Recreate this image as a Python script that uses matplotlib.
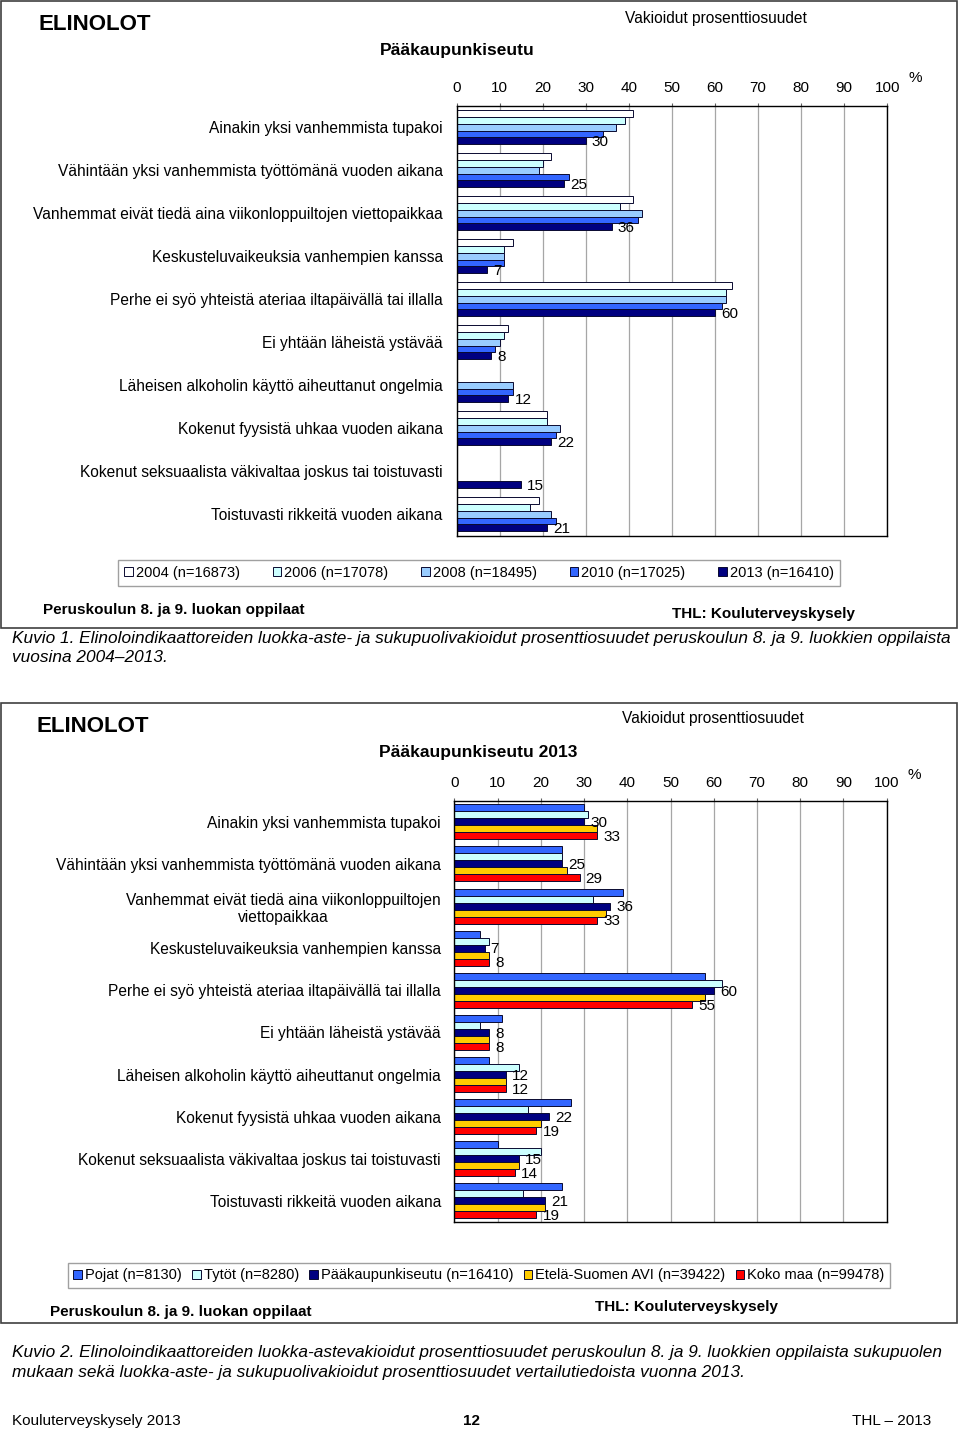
import matplotlib.pyplot as plt
import matplotlib.patches as patches
import numpy as np

plt.rcParams['font.family'] = ['Liberation Sans', 'DejaVu Sans']

W, H = 960, 1433

categories = ['Ainakin yksi vanhemmista tupakoi',
              'Vähintään yksi vanhemmista työttömänä vuoden aikana',
              'Vanhemmat eivät tiedä aina viikonloppuiltojen viettopaikkaa',
              'Keskusteluvaikeuksia vanhempien kanssa',
              'Perhe ei syö yhteistä ateriaa iltapäivällä tai illalla',
              'Ei yhtään läheistä ystävää',
              'Läheisen alkoholin käyttö aiheuttanut ongelmia',
              'Kokenut fyysistä uhkaa vuoden aikana',
              'Kokenut seksuaalista väkivaltaa joskus tai toistuvasti',
              'Toistuvasti rikkeitä vuoden aikana']
categories2 = list(categories)
categories2[2] = 'Vanhemmat eivät tiedä aina viikonloppuiltojen\nviettopaikkaa'

# chart 1: years, Pääkaupunkiseutu
years = ['2004 (n=16873)', '2006 (n=17078)', '2008 (n=18495)', '2010 (n=17025)', '2013 (n=16410)']
v2004 = [41, 22, 41, 13, 64, 12, np.nan, 21, np.nan, 19]
v2006 = [39, 20, 38, 11, 62.5, 11, np.nan, 21, np.nan, 17]
v2008 = [37, 19, 43, 11, 62.5, 10, 13, 24, np.nan, 22]
v2010 = [34, 26, 42, 11, 61.5, 9, 13, 23, np.nan, 23]
v2013 = [30, 25, 36, 7, 60, 8, 12, 22, 15, 21]
year_colors = ['white', '#CCFFFF', '#99CCFF', '#3366FF', '#000080']

# chart 2: groups in 2013
groups = ['Pojat (n=8130)', 'Tytöt (n=8280)', 'Pääkaupunkiseutu (n=16410)',
          'Etelä-Suomen AVI (n=39422)', 'Koko maa (n=99478)']
pojat = [30, 25, 39, 6, 58, 11, 8, 27, 10, 25]
tytot = [31, 25, 32, 8, 62, 6, 15, 17, 20, 16]
pks = [30, 25, 36, 7, 60, 8, 12, 22, 15, 21]
avi = [33, 26, 35, 8, 58, 8, 12, 20, 15, 21]
koko = [33, 29, 33, 8, 55, 8, 12, 19, 14, 19]
group_colors = ['#3366FF', '#CCFFFF', '#000080', '#FFCC00', '#FF0000']

ticks = np.arange(0, 101, 10)


def fx(x):
    return x / W


def fy(y):
    return 1 - y / H


fig = plt.figure(figsize=(W / 100, H / 100), dpi=100)


def make_axes(left, right, top, bottom):
    ax = fig.add_axes([fx(left), fy(bottom), fx(right) - fx(left), fy(top) - fy(bottom)])
    ax.set_xlim(0, 100)
    ax.set_ylim(len(categories) - 0.5, -0.5)
    ax.xaxis.tick_top()
    ax.set_xticks(ticks)
    ax.set_xticklabels([str(t) for t in ticks], fontsize=11)
    ax.tick_params(axis='x', direction='out', length=2.5, pad=5, color='#606060')
    ax.tick_params(axis='y', length=0)
    ax.grid(axis='x', color='#A6A6A6', linewidth=0.9)
    ax.set_axisbelow(True)
    for s in ax.spines.values():
        s.set_color('black')
        s.set_linewidth(1)
    return ax


def draw_bars(ax, series, colors, width, labelled):
    pos = np.arange(len(categories))
    h = width / len(series)
    handles = []
    for j, vals in enumerate(series):
        vals = np.array(vals, dtype=float)
        y = pos + (j - (len(series) - 1) / 2) * h
        ok = ~np.isnan(vals)
        b = ax.barh(y[ok], vals[ok], height=h, color=colors[j], edgecolor='#0A0A30', linewidth=0.7)
        handles.append(b)
        if j in labelled:
            for yy, vv in zip(y[ok], vals[ok]):
                ax.text(vv + 1.4, yy + 0.03, '%.0f' % vv, va='center', ha='left', fontsize=11)
    return handles


# frames round the two charts
fig.patches.append(patches.Rectangle((fx(1), fy(628)), fx(957) - fx(1), fy(1) - fy(628),
                                     transform=fig.transFigure, fill=False, edgecolor='#404040', linewidth=1.2))
fig.patches.append(patches.Rectangle((fx(1), fy(1323)), fx(957) - fx(1), fy(703) - fy(1323),
                                     transform=fig.transFigure, fill=False, edgecolor='#404040', linewidth=1.2))

# chart 1
ax1 = make_axes(456.7, 887.3, 105.7, 535.7)
ax1.set_yticks(np.arange(len(categories)))
ax1.set_yticklabels(categories, fontsize=11.2)
ax1.tick_params(axis='y', pad=10)
h1 = draw_bars(ax1, [v2004, v2006, v2008, v2010, v2013], year_colors, 0.79, [4])

fig.text(fx(38), fy(25), 'ELINOLOT', fontsize=16, fontweight='bold', va='center')
fig.text(fx(457), fy(51), 'Pääkaupunkiseutu', fontsize=12.5, fontweight='bold', va='center', ha='center')
fig.text(fx(716), fy(18), 'Vakioidut prosenttiosuudet', fontsize=11.2, va='center', ha='center')
fig.text(fx(915), fy(78), '%', fontsize=11, va='center', ha='center')
fig.legend(h1, years, loc='center', bbox_to_anchor=(fx(479), fy(573)), ncol=5, fontsize=10.5,
           fancybox=False, edgecolor='#A0A0A0', framealpha=1, handlelength=0.6, handleheight=0.6,
           handletextpad=0.2, columnspacing=2.25, borderpad=0.4)
fig.text(fx(43), fy(610), 'Peruskoulun 8. ja 9. luokan oppilaat', fontsize=11, fontweight='bold', va='center')
fig.text(fx(855), fy(614), 'THL: Kouluterveyskysely', fontsize=11, fontweight='bold', va='center', ha='right')
fig.text(fx(12), fy(638), 'Kuvio 1. Elinoloindikaattoreiden luokka-aste- ja sukupuolivakioidut prosenttiosuudet '
         'peruskoulun 8. ja 9. luokkien oppilaista', fontsize=12.4, style='italic', va='center')
fig.text(fx(12), fy(657), 'vuosina 2004–2013.', fontsize=12.4, style='italic', va='center')

# chart 2
ax2 = make_axes(454.3, 886.7, 800.7, 1222)
ax2.set_yticks(np.arange(len(categories2)))
ax2.set_yticklabels(categories2, fontsize=11.2, multialignment='center')
ax2.tick_params(axis='y', pad=9.5)
h2 = draw_bars(ax2, [pojat, tytot, pks, avi, koko], group_colors, 0.83, [2, 4])

fig.text(fx(37), fy(726), 'ELINOLOT', fontsize=16, fontweight='bold', va='center')
fig.text(fx(478), fy(752), 'Pääkaupunkiseutu 2013', fontsize=12.5, fontweight='bold', va='center', ha='center')
fig.text(fx(713), fy(718), 'Vakioidut prosenttiosuudet', fontsize=11.2, va='center', ha='center')
fig.text(fx(914), fy(775), '%', fontsize=11, va='center', ha='center')
fig.legend(h2, groups, loc='center', bbox_to_anchor=(fx(479), fy(1275.5)), ncol=5, fontsize=10.5,
           fancybox=False, edgecolor='#A0A0A0', framealpha=1, handlelength=0.6, handleheight=0.6,
           handletextpad=0.2, columnspacing=0.7, borderpad=0.4)
fig.text(fx(50), fy(1312), 'Peruskoulun 8. ja 9. luokan oppilaat', fontsize=11, fontweight='bold', va='center')
fig.text(fx(778), fy(1307), 'THL: Kouluterveyskysely', fontsize=11, fontweight='bold', va='center', ha='right')
fig.text(fx(12), fy(1352), 'Kuvio 2. Elinoloindikaattoreiden luokka-astevakioidut prosenttiosuudet peruskoulun 8. '
         'ja 9. luokkien oppilaista sukupuolen', fontsize=12.4, style='italic', va='center')
fig.text(fx(12), fy(1372), 'mukaan sekä luokka-aste- ja sukupuolivakioidut prosenttiosuudet vertailutiedoista '
         'vuonna 2013.', fontsize=12.4, style='italic', va='center')

# page footer
fig.text(fx(12), fy(1421), 'Kouluterveyskysely 2013', fontsize=11, va='center')
fig.text(fx(471), fy(1421), '12', fontsize=11, fontweight='bold', va='center', ha='center')
fig.text(fx(931), fy(1421), 'THL – 2013', fontsize=11, va='center', ha='right')

fig.savefig('out.png', dpi=100, facecolor='white')
